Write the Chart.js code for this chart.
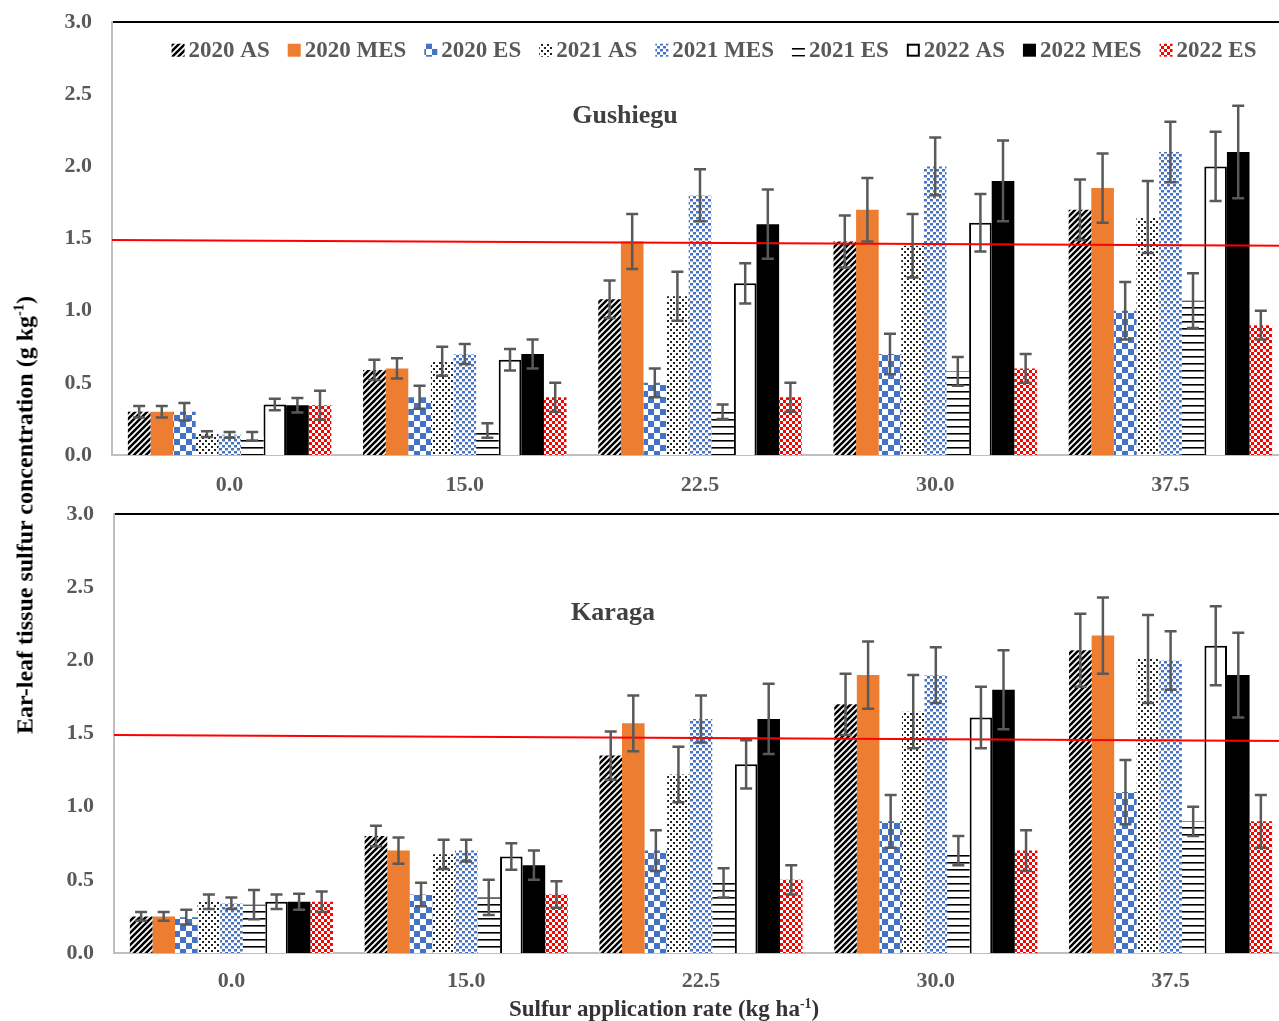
<!DOCTYPE html>
<html>
<head>
<meta charset="utf-8">
<script src="https://cdn.jsdelivr.net/npm/chart.js@4.4.1/dist/chart.umd.min.js"></script>
<style>
  html, body { margin: 0; padding: 0; background: #fff; overflow: hidden; }
  body { width: 1279px; height: 1021px; position: relative; }
  canvas { position: absolute; left: 0; top: 0; }
  .txt {
    position: absolute;
    font-family: "Liberation Serif", "Times New Roman", serif;
    font-weight: bold;
    white-space: nowrap;
    transform: translate(-50%, -50%);
  }
  .txt sup { font-size: 60%; vertical-align: 0.6em; line-height: 0; }
  #gusTitle { left: 625px; top: 115px; font-size: 26px; color: #404040; }
  #karTitle { left: 613px; top: 612px; font-size: 26px; color: #404040; }
  #yTitle { left: 25px; top: 515px; font-size: 24px; color: #000; transform: translate(-50%, -50%) rotate(-90deg); }
  #xTitle { left: 664px; top: 1009px; font-size: 23px; color: #333; }
</style>
</head>
<body>
<canvas id="topChart" width="1300" height="520"></canvas>
<canvas id="botChart" width="1300" height="560"></canvas>
<div class="txt" id="gusTitle">Gushiegu</div>
<div class="txt" id="karTitle">Karaga</div>
<div class="txt" id="yTitle">Ear-leaf tissue sulfur concentration (g kg<sup>-1</sup>)</div>
<div class="txt" id="xTitle">Sulfur application rate (kg ha<sup>-1</sup>)</div>
<script>
// Sulfur rates (kg/ha) on the x axis
const categories = ["0.0", "15.0", "22.5", "30.0", "37.5"];
const seriesNames = ["2020 AS", "2020 MES", "2020 ES", "2021 AS", "2021 MES", "2021 ES", "2022 AS", "2022 MES", "2022 ES"];
const yTicks = [0, 0.5, 1.0, 1.5, 2.0, 2.5, 3.0];

// Gushiegu means
const gus2020AS = [0.30, 0.59, 1.08, 1.48, 1.70];
const gus2020MES = [0.30, 0.60, 1.48, 1.70, 1.85];
const gus2020ES = [0.30, 0.40, 0.50, 0.70, 1.00];
const gus2021AS = [0.145, 0.65, 1.10, 1.45, 1.65];
const gus2021MES = [0.14, 0.70, 1.80, 2.00, 2.10];
const gus2021ES = [0.13, 0.17, 0.30, 0.58, 1.07];
const gus2022AS = [0.35, 0.66, 1.19, 1.61, 2.00];
const gus2022MES = [0.345, 0.70, 1.60, 1.90, 2.10];
const gus2022ES = [0.345, 0.40, 0.40, 0.60, 0.90];
// Gushiegu error bars
const gusErr2020AS = [0.04, 0.07, 0.13, 0.18, 0.21];
const gusErr2020MES = [0.04, 0.07, 0.19, 0.22, 0.24];
const gusErr2020ES = [0.06, 0.08, 0.10, 0.14, 0.20];
const gusErr2021AS = [0.02, 0.10, 0.17, 0.22, 0.25];
const gusErr2021MES = [0.02, 0.07, 0.18, 0.20, 0.21];
const gusErr2021ES = [0.03, 0.05, 0.05, 0.10, 0.19];
const gusErr2022AS = [0.04, 0.075, 0.14, 0.20, 0.24];
const gusErr2022MES = [0.05, 0.10, 0.24, 0.28, 0.32];
const gusErr2022ES = [0.10, 0.10, 0.10, 0.10, 0.10];

// Karaga means
const kar2020AS = [0.25, 0.80, 1.35, 1.70, 2.07];
const kar2020MES = [0.25, 0.70, 1.57, 1.90, 2.17];
const kar2020ES = [0.245, 0.40, 0.70, 0.90, 1.10];
const kar2021AS = [0.35, 0.675, 1.22, 1.65, 2.01];
const kar2021MES = [0.34, 0.70, 1.60, 1.90, 2.00];
const kar2021ES = [0.33, 0.38, 0.48, 0.70, 0.90];
const kar2022AS = [0.35, 0.66, 1.29, 1.61, 2.10];
const kar2022MES = [0.35, 0.60, 1.60, 1.80, 1.90];
const kar2022ES = [0.35, 0.40, 0.50, 0.70, 0.90];
// Karaga error bars
const karErr2020AS = [0.03, 0.07, 0.165, 0.21, 0.25];
const karErr2020MES = [0.03, 0.09, 0.19, 0.23, 0.26];
const karErr2020ES = [0.05, 0.08, 0.14, 0.18, 0.22];
const karErr2021AS = [0.05, 0.10, 0.19, 0.25, 0.30];
const karErr2021MES = [0.04, 0.075, 0.16, 0.19, 0.20];
const karErr2021ES = [0.10, 0.12, 0.10, 0.10, 0.10];
const karErr2022AS = [0.05, 0.09, 0.165, 0.21, 0.27];
const karErr2022MES = [0.055, 0.10, 0.24, 0.27, 0.29];
const karErr2022ES = [0.07, 0.09, 0.10, 0.14, 0.18];

// red critical level line (value at left edge, value at right edge)
const gusThreshold = [1.49, 1.45];
const karThreshold = [1.49, 1.45];

const FONT = '"Liberation Serif", "Times New Roman", serif';
const BLUE = "#4472C4";

function makePattern(size, draw) {
  const c = document.createElement("canvas");
  c.width = size;
  c.height = size;
  const p = c.getContext("2d");
  p.fillStyle = "#fff";
  p.fillRect(0, 0, size, size);
  draw(p, size);
  return document.createElement("canvas").getContext("2d").createPattern(c, "repeat");
}

const diagPattern = makePattern(6, (p, s) => {
  p.strokeStyle = "#000";
  p.lineWidth = 2.5;
  p.beginPath();
  p.moveTo(-1, s + 1); p.lineTo(s + 1, -1);
  p.moveTo(-s / 2 - 1, s / 2 + 1); p.lineTo(s / 2 + 1, -s / 2 - 1);
  p.moveTo(s / 2 - 1, s * 1.5 + 1); p.lineTo(s * 1.5 + 1, s / 2 - 1);
  p.stroke();
});
const blueCheck = makePattern(12, (p) => {
  p.fillStyle = BLUE;
  p.fillRect(0, 0, 6, 6);
  p.fillRect(6, 6, 6, 6);
});
const blackDots = makePattern(6, (p) => {
  p.fillStyle = "#222";
  p.fillRect(1, 1, 2, 2);
  p.fillRect(4, 4, 2, 2);
});
const blueDots = makePattern(6, (p) => {
  p.fillStyle = BLUE;
  p.fillRect(0, 0, 3, 2.5);
  p.fillRect(3, 3, 3, 2.5);
});
const hLines = makePattern(7, (p) => {
  p.fillStyle = "#000";
  p.fillRect(0, 3, 7, 1.6);
});
const redCheck = makePattern(6, (p) => {
  p.fillStyle = "#FF0000";
  p.fillRect(0, 0, 3, 3);
  p.fillRect(3, 3, 3, 3);
});

const fills = [diagPattern, "#ED7D31", blueCheck, blackDots, blueDots, hLines, "#FFFFFF", "#000000", redCheck];

// sloping red reference line across the plot area
const thresholdPlugin = {
  id: "threshold",
  afterDatasetsDraw(chart, args, opts) {
    const { ctx, chartArea } = chart;
    const yScale = chart.scales.y;
    ctx.save();
    ctx.strokeStyle = "#FF0000";
    ctx.lineWidth = 2;
    ctx.beginPath();
    ctx.moveTo(chartArea.left, yScale.getPixelForValue(opts.values[0]));
    ctx.lineTo(chartArea.right, yScale.getPixelForValue(opts.values[1]));
    ctx.stroke();
    ctx.restore();
  },
};

const errorBarPlugin = {
  id: "errorBars",
  afterDatasetsDraw(chart) {
    const ctx = chart.ctx;
    const yScale = chart.scales.y;
    ctx.save();
    ctx.strokeStyle = "#595959";
    ctx.lineWidth = 2.5;
    chart.data.datasets.forEach((ds, i) => {
      if (!ds.errors) return;
      const meta = chart.getDatasetMeta(i);
      meta.data.forEach((bar, j) => {
        const v = ds.data[j];
        const e = ds.errors[j];
        const yt = yScale.getPixelForValue(v + e);
        const yb = yScale.getPixelForValue(v - e);
        ctx.beginPath();
        ctx.moveTo(bar.x, yt); ctx.lineTo(bar.x, yb);
        ctx.moveTo(bar.x - 6, yt); ctx.lineTo(bar.x + 6, yt);
        ctx.moveTo(bar.x - 6, yb); ctx.lineTo(bar.x + 6, yb);
        ctx.stroke();
      });
    });
    ctx.restore();
  },
};

// legend drawn inside the plot, only for the top panel
const insideLegend = {
  id: "insideLegend",
  afterDraw(chart, args, opts) {
    if (!opts.show) return;
    const ctx = chart.ctx;
    ctx.save();
    ctx.font = "bold 23px " + FONT;
    ctx.textBaseline = "middle";
    const box = 13, gapText = 4, gapItem = 18;
    const widths = seriesNames.map((n) => box + gapText + ctx.measureText(n).width);
    const total = widths.reduce((a, b) => a + b, 0) + gapItem * (widths.length - 1);
    let x = opts.centerX - total / 2;
    const y = chart.chartArea.top + opts.offsetY;
    seriesNames.forEach((name, i) => {
      ctx.fillStyle = fills[i];
      ctx.fillRect(x, y - box / 2, box, box);
      if (i === 6) {
        ctx.strokeStyle = "#000";
        ctx.lineWidth = 2;
        ctx.strokeRect(x + 1, y - box / 2 + 1, box - 2, box - 2);
      }
      ctx.fillStyle = "#595959";
      ctx.fillText(name, x + box + gapText, y + 1);
      x += widths[i] + gapItem;
    });
    ctx.restore();
  },
};

function buildDatasets(means, errs) {
  return means.map((vals, i) => ({
    label: seriesNames[i],
    data: vals,
    errors: errs[i],
    backgroundColor: fills[i],
    borderColor: "#000",
    borderWidth: i === 6 ? 2 : 0,
    categoryPercentage: 0.865,
    barPercentage: 1.0,
  }));
}

function chartConfig(means, errs, threshold, cfg) {
  const tickFont = { family: FONT, size: 22, weight: "bold" };
  return {
    type: "bar",
    data: { labels: categories, datasets: buildDatasets(means, errs) },
    options: {
      responsive: false,
      maintainAspectRatio: false,
      animation: false,
      devicePixelRatio: 1,
      layout: { padding: { left: 0, right: 12, top: 0, bottom: 0 } },
      plugins: {
        legend: { display: false },
        tooltip: { enabled: false },
        threshold: { values: threshold },
        insideLegend: { show: cfg.legend, centerX: 714, offsetY: 28 },
      },
      scales: {
        x: {
          grid: { display: false, drawTicks: false },
          border: { color: "#BFBFBF", width: 2 },
          ticks: { font: tickFont, color: "#595959", padding: cfg.xPad },
          afterFit: (s) => { s.height = cfg.xHeight; },
        },
        y: {
          min: 0,
          max: 3,
          afterBuildTicks: (s) => { s.ticks = yTicks.map((v) => ({ value: v })); },
          ticks: { font: tickFont, color: "#595959", padding: 20, callback: (v) => Number(v).toFixed(1) },
          grid: {
            drawTicks: false,
            color: (c) => (c.tick && c.tick.value === 3 ? "#000" : "rgba(0,0,0,0)"),
            lineWidth: (c) => (c.tick && c.tick.value === 3 ? 2 : 0),
          },
          border: { color: "#BFBFBF", width: 2 },
          afterFit: (s) => { s.width = cfg.yWidth; },
        },
      },
    },
    plugins: [thresholdPlugin, errorBarPlugin, insideLegend],
  };
}

// build the chart, then size and shift its canvas so the plot area lands at plotTop..plotBottom
function makePanel(id, means, errs, threshold, cfg) {
  const el = document.getElementById(id);
  let chart = new Chart(el, chartConfig(means, errs, threshold, cfg));
  const plotH = cfg.plotBottom - cfg.plotTop;
  const got = chart.chartArea.bottom - chart.chartArea.top;
  const newH = Math.round(el.height + (plotH - got));
  chart.destroy();
  el.width = 1300;
  el.height = newH;
  el.style.width = "1300px";
  el.style.height = newH + "px";
  chart = new Chart(el, chartConfig(means, errs, threshold, cfg));
  el.style.top = Math.round(cfg.plotTop - chart.chartArea.top) + "px";
  return chart;
}

makePanel(
  "topChart",
  [gus2020AS, gus2020MES, gus2020ES, gus2021AS, gus2021MES, gus2021ES, gus2022AS, gus2022MES, gus2022ES],
  [gusErr2020AS, gusErr2020MES, gusErr2020ES, gusErr2021AS, gusErr2021MES, gusErr2021ES, gusErr2022AS, gusErr2022MES, gusErr2022ES],
  gusThreshold,
  { plotTop: 22, plotBottom: 455, xHeight: 45, xPad: 17, yWidth: 112, legend: true }
);

makePanel(
  "botChart",
  [kar2020AS, kar2020MES, kar2020ES, kar2021AS, kar2021MES, kar2021ES, kar2022AS, kar2022MES, kar2022ES],
  [karErr2020AS, karErr2020MES, karErr2020ES, karErr2021AS, karErr2021MES, karErr2021ES, karErr2022AS, karErr2022MES, karErr2022ES],
  karThreshold,
  { plotTop: 514, plotBottom: 953, xHeight: 68, xPad: 15, yWidth: 114, legend: false }
);
</script>
</body>
</html>
